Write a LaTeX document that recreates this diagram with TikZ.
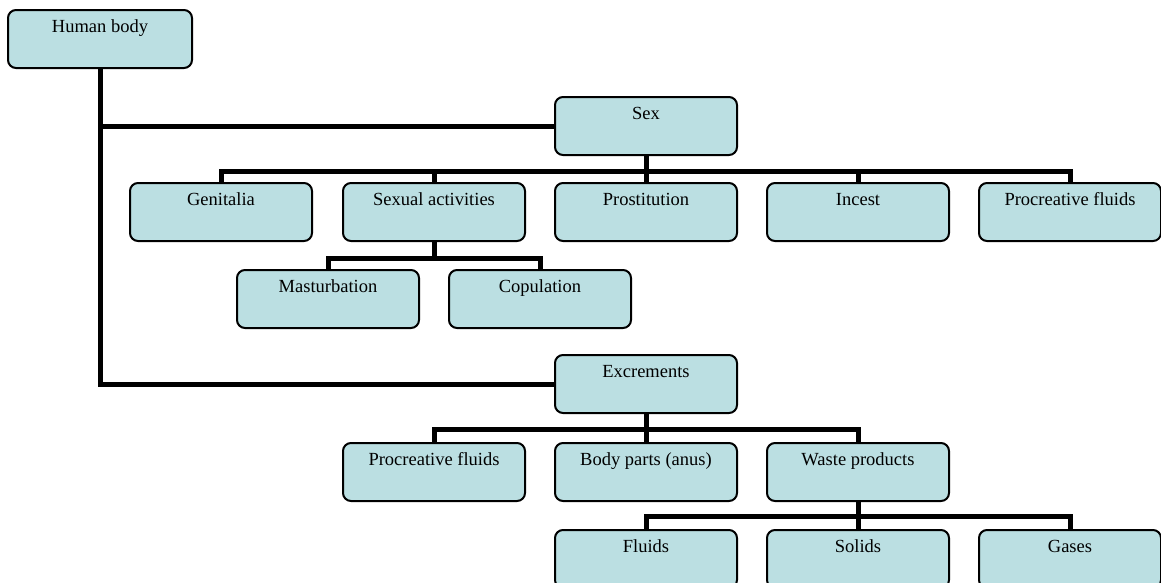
\documentclass[tikz,border=0pt]{standalone}
\usepackage{fontspec}
\setmainfont{Liberation Serif}
\definecolor{boxfill}{RGB}{187,223,226}
\tikzset{
  topic/.style={draw=black, line width=2pt, fill=boxfill, rounded corners=8pt,
    minimum width=182pt, inner sep=0pt, text height=22pt, text depth=36pt,
    font=\fontsize{18.5}{22}\selectfont},
  link/.style={line width=5pt, line join=miter}
}
\begin{document}
\begin{tikzpicture}[x=1pt, y=-1pt]
  \useasboundingbox (0,0) rectangle (1161,582);
  \clip (0,0) rectangle (1161,582);
  % boxes
  \node[topic, minimum width=184pt] (body) at (100,39) {Human body};
  \node[topic] (sex) at (646,126) {Sex};
  \node[topic] (genit) at (221,212) {Genitalia};
  \node[topic] (sexact) at (434,212) {Sexual activities};
  \node[topic] (prost) at (646,212) {Prostitution};
  \node[topic] (incest) at (858,212) {Incest};
  \node[topic] (procA) at (1070,212) {Procreative fluids};
  \node[topic] (mastur) at (328,299) {Masturbation};
  \node[topic] (copul) at (540,299) {Copulation};
  \node[topic] (excr) at (646,384) {Excrements};
  \node[topic] (procB) at (434,472) {Procreative fluids};
  \node[topic] (anus) at (646,472) {Body parts (anus)};
  \node[topic] (waste) at (858,472) {Waste products};
  \node[topic] (fluids) at (646,559) {Fluids};
  \node[topic] (solids) at (858,559) {Solids};
  \node[topic] (gases) at (1070,559) {Gases};
  % connectors
  \draw[link] (body.south) |- (sex.west);
  \draw[link] (body.south) |- (excr.west);
  \foreach \c in {genit,sexact,prost,incest,procA}
    \draw[link] (sex.south) -- ++(0,15) -| (\c.north);
  \foreach \c in {mastur,copul}
    \draw[link] (sexact.south) -- ++(0,16) -| (\c.north);
  \foreach \c in {procB,anus,waste}
    \draw[link] (excr.south) -- ++(0,15) -| (\c.north);
  \foreach \c in {fluids,solids,gases}
    \draw[link] (waste.south) -- ++(0,14) -| (\c.north);
\end{tikzpicture}
\end{document}
